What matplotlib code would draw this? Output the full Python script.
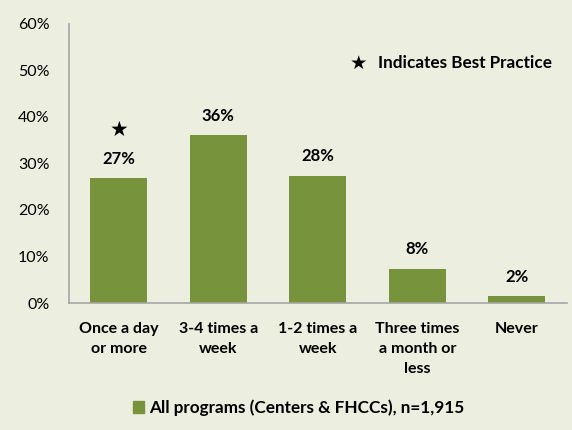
import matplotlib
matplotlib.use("Agg")
import matplotlib.pyplot as plt
from matplotlib.patches import Patch

categories = ["Once a day\nor more", "3-4 times a\nweek", "1-2 times a\nweek", "Three times\na month or\nless", "Never"]
values = [26.8, 36.2, 27.4, 7.4, 1.5]
value_labels = ["27%", "36%", "28%", "8%", "2%"]
yticks = [0, 10, 20, 30, 40, 50, 60]
series_name = "All programs (Centers & FHCCs), n=1,915"
best_practice = [True, False, False, False, False]

bg = "#ECEEDF"
bar_color = "#77933C"
font = ["Lato", "DejaVu Sans"]

fig = plt.figure(figsize=(5.72, 4.30), dpi=100, facecolor=bg)
ax = fig.add_axes([0.1206, 0.2953, 0.870, 0.649], facecolor=bg)

x = list(range(len(categories)))
ax.bar(x, values, width=0.57, color=bar_color, zorder=2)
for xi, v, lab, bp in zip(x, values, value_labels, best_practice):
    ax.annotate(lab, (xi, v), xytext=(0, 8), textcoords="offset points",
                ha="center", va="bottom", fontsize=12, fontweight="bold", family=font)
    if bp:
        ax.annotate("★", (xi, v), xytext=(0, 28), textcoords="offset points",
                    ha="center", va="bottom", fontsize=15, family=["DejaVu Sans"])

ax.set_xlim(-0.5, len(categories) - 0.5)
ax.set_ylim(0, 60)
ax.set_yticks(yticks)
ax.set_yticklabels([f"{t}%" for t in yticks], fontsize=11.5, family=font)
ax.set_xticks(x)
ax.set_xticklabels(categories, fontsize=11.5, fontweight="bold", family=font, linespacing=1.56, va="top")
ax.tick_params(axis="both", length=0)
ax.tick_params(axis="y", pad=14)
ax.tick_params(axis="x", pad=13.5)
for s in ["top", "right"]:
    ax.spines[s].set_visible(False)
for s in ["left", "bottom"]:
    ax.spines[s].set_color("#A6A6A6")
    ax.spines[s].set_linewidth(1.2)

fig.text(0.612, 0.853, "★", fontsize=14, ha="left", va="center", family=["DejaVu Sans"])
fig.text(0.660, 0.853, "Indicates Best Practice", fontsize=12.3, fontweight="bold",
         ha="left", va="center", family=font)

leg = fig.legend(handles=[Patch(color=bar_color, label=series_name)], loc="center",
                 bbox_to_anchor=(0.522, 0.052), frameon=False, handlelength=0.65, handleheight=0.65,
                 handletextpad=0.3, prop={"family": font, "size": 12.3, "weight": "bold"})

fig.savefig("out.png", dpi=100, facecolor=bg)
